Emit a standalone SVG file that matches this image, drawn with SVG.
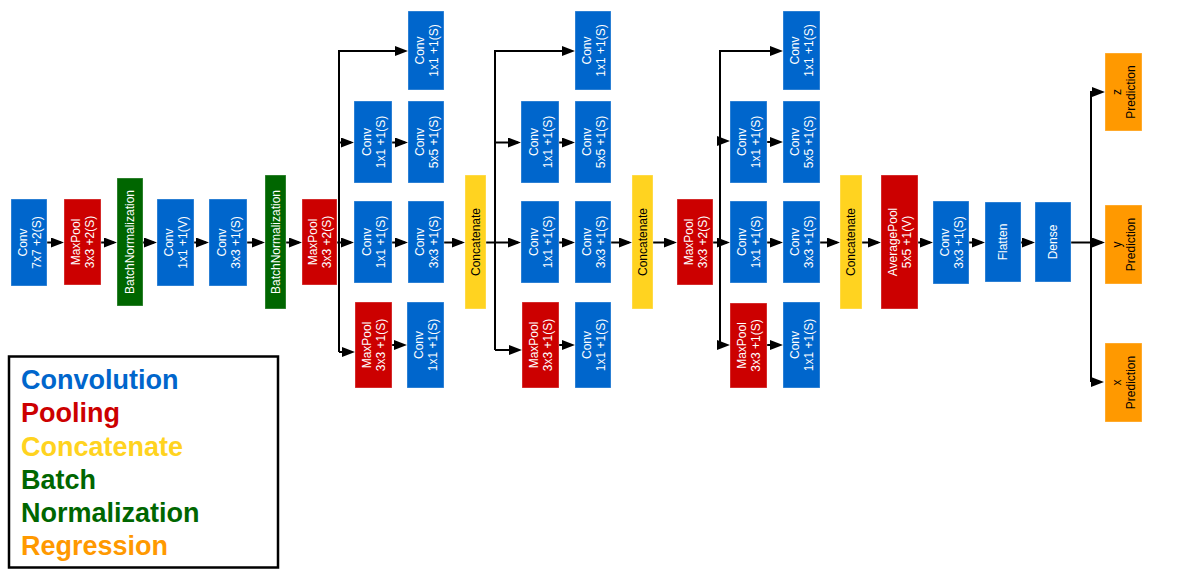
<svg xmlns="http://www.w3.org/2000/svg" width="1192" height="572" viewBox="0 0 1192 572">
<defs>
  <marker id="arr" markerUnits="userSpaceOnUse" markerWidth="13" markerHeight="10" refX="10" refY="5" orient="auto">
    <path d="M0,0 L13,5 L0,10 Z" fill="#000"/>
  </marker>
  <style>
    rect.n { stroke: #ffffff; stroke-opacity: 0.35; stroke-width: 1; }
    .conv { fill: #0066CC; }
    .pool { fill: #CC0000; }
    .cat { fill: #FFD320; }
    .bn { fill: #006600; }
    .reg { fill: #FF9900; }
    text.l { font-family: "Liberation Sans", Arial, sans-serif; font-size: 12px; fill: #ffffff; text-anchor: middle; }
    text.d { fill: #000000; }
    #connectors path { fill: none; stroke: #000; stroke-width: 2; }
    #connectors path.a { marker-end: url(#arr); }
    .leg { font-family: "Liberation Sans", Arial, sans-serif; font-size: 27px; font-weight: bold; }
  </style>
</defs>
<rect width="1192" height="572" fill="#ffffff"/>

<!-- connectors -->
<g id="connectors">
  <path class="a" d="M47,242.5 H61"/>
  <path class="a" d="M101,242.5 H114"/>
  <path class="a" d="M143,242.5 H154"/>
  <path class="a" d="M194,242.5 H206"/>
  <path class="a" d="M247,242.5 H262"/>
  <path class="a" d="M286,242.5 H299"/>
  <!-- block A -->
  <path class="a" d="M337,242.5 H351"/>
  <path class="a" d="M339,352 V51 H405"/>
  <path class="a" d="M339,142.5 H351"/>
  <path class="a" d="M339,352 H352"/>
  <path class="a" d="M392,142.5 H405"/>
  <path class="a" d="M392,242.5 H405"/>
  <path class="a" d="M392,345 H404"/>
  <path class="a" d="M444,242.5 H462"/>
  <!-- block B -->
  <path class="a" d="M486,242.5 H518"/>
  <path class="a" d="M495,350 V51 H572"/>
  <path class="a" d="M495,142.5 H518"/>
  <path class="a" d="M495,350 H519"/>
  <path class="a" d="M559,142.5 H572"/>
  <path class="a" d="M559,242.5 H572"/>
  <path class="a" d="M559,345 H572"/>
  <path class="a" d="M611,242.5 H629"/>
  <path class="a" d="M653,242.5 H674"/>
  <!-- block C -->
  <path class="a" d="M713,242.5 H727"/>
  <path class="a" d="M720,345 V51 H780"/>
  <path class="a" d="M720,141 H727"/>
  <path class="a" d="M720,345 H727"/>
  <path class="a" d="M767,142 H780"/>
  <path class="a" d="M767,242.5 H780"/>
  <path class="a" d="M767,345 H780"/>
  <path class="a" d="M820,242.5 H837"/>
  <!-- head -->
  <path class="a" d="M862,242.5 H878"/>
  <path class="a" d="M918,242.5 H930"/>
  <path class="a" d="M969,242.5 H982"/>
  <path class="a" d="M1021,242.5 H1032"/>
  <path class="a" d="M1071,242.5 H1102"/>
  <path class="a" d="M1091,382 V92 H1102"/>
  <path class="a" d="M1091,382 H1101"/>
</g>

<!-- stem -->
<g id="conv1"><rect class="n conv" x="11" y="199" width="36" height="87"/>
  <text class="l" transform="translate(29,242.5) rotate(-90)"><tspan x="0" y="-2.5">Conv</tspan><tspan x="0" y="11.5">7x7 +2(S)</tspan></text></g>
<g id="pool1"><rect class="n pool" x="64" y="199" width="37" height="86"/>
  <text class="l" transform="translate(82.5,242) rotate(-90)"><tspan x="0" y="-2.5">MaxPool</tspan><tspan x="0" y="11.5">3x3 +2(S)</tspan></text></g>
<g id="bn1"><rect class="n bn" x="117" y="178" width="26" height="128"/>
  <text class="l" transform="translate(130,242) rotate(-90)" y="4.3">BatchNormalization</text></g>
<g id="conv2"><rect class="n conv" x="157" y="199" width="37" height="87"/>
  <text class="l" transform="translate(175.5,242.5) rotate(-90)"><tspan x="0" y="-2.5">Conv</tspan><tspan x="0" y="11.5">1x1 +1(V)</tspan></text></g>
<g id="conv3"><rect class="n conv" x="209" y="199" width="38" height="87"/>
  <text class="l" transform="translate(228,242.5) rotate(-90)"><tspan x="0" y="-2.5">Conv</tspan><tspan x="0" y="11.5">3x3 +1(S)</tspan></text></g>
<g id="bn2"><rect class="n bn" x="265" y="175" width="21" height="134"/>
  <text class="l" transform="translate(275.5,242) rotate(-90)" y="4.3">BatchNormalization</text></g>
<g id="pool2"><rect class="n pool" x="302" y="199" width="35" height="86"/>
  <text class="l" transform="translate(319.5,242) rotate(-90)"><tspan x="0" y="-2.5">MaxPool</tspan><tspan x="0" y="11.5">3x3 +2(S)</tspan></text></g>

<!-- block A -->
<g id="a1"><rect class="n conv" x="408" y="11" width="36" height="79"/>
  <text class="l" transform="translate(426,50.5) rotate(-90)"><tspan x="0" y="-2.5">Conv</tspan><tspan x="0" y="11.5">1x1 +1(S)</tspan></text></g>
<g id="a2a"><rect class="n conv" x="354" y="101" width="38" height="82"/>
  <text class="l" transform="translate(373,142) rotate(-90)"><tspan x="0" y="-2.5">Conv</tspan><tspan x="0" y="11.5">1x1 +1(S)</tspan></text></g>
<g id="a2b"><rect class="n conv" x="408" y="101" width="36" height="82"/>
  <text class="l" transform="translate(426,142) rotate(-90)"><tspan x="0" y="-2.5">Conv</tspan><tspan x="0" y="11.5">5x5 +1(S)</tspan></text></g>
<g id="a3a"><rect class="n conv" x="354" y="201" width="38" height="82"/>
  <text class="l" transform="translate(373,242) rotate(-90)"><tspan x="0" y="-2.5">Conv</tspan><tspan x="0" y="11.5">1x1 +1(S)</tspan></text></g>
<g id="a3b"><rect class="n conv" x="408" y="201" width="36" height="82"/>
  <text class="l" transform="translate(426,242) rotate(-90)"><tspan x="0" y="-2.5">Conv</tspan><tspan x="0" y="11.5">3x3 +1(S)</tspan></text></g>
<g id="a4a"><rect class="n pool" x="355" y="302" width="37" height="86"/>
  <text class="l" transform="translate(373.5,345) rotate(-90)"><tspan x="0" y="-2.5">MaxPool</tspan><tspan x="0" y="11.5">3x3 +1(S)</tspan></text></g>
<g id="a4b"><rect class="n conv" x="407" y="302" width="37" height="86"/>
  <text class="l" transform="translate(425.5,345) rotate(-90)"><tspan x="0" y="-2.5">Conv</tspan><tspan x="0" y="11.5">1x1 +1(S)</tspan></text></g>
<g id="cat1"><rect class="n cat" x="465" y="175" width="21" height="134"/>
  <text class="l d" transform="translate(475.5,242) rotate(-90)" y="4.3">Concatenate</text></g>

<!-- block B -->
<g id="b1"><rect class="n conv" x="575" y="11" width="36" height="79"/>
  <text class="l" transform="translate(593,50.5) rotate(-90)"><tspan x="0" y="-2.5">Conv</tspan><tspan x="0" y="11.5">1x1 +1(S)</tspan></text></g>
<g id="b2a"><rect class="n conv" x="521" y="101" width="38" height="82"/>
  <text class="l" transform="translate(540,142) rotate(-90)"><tspan x="0" y="-2.5">Conv</tspan><tspan x="0" y="11.5">1x1 +1(S)</tspan></text></g>
<g id="b2b"><rect class="n conv" x="575" y="101" width="36" height="82"/>
  <text class="l" transform="translate(593,142) rotate(-90)"><tspan x="0" y="-2.5">Conv</tspan><tspan x="0" y="11.5">5x5 +1(S)</tspan></text></g>
<g id="b3a"><rect class="n conv" x="521" y="201" width="38" height="82"/>
  <text class="l" transform="translate(540,242) rotate(-90)"><tspan x="0" y="-2.5">Conv</tspan><tspan x="0" y="11.5">1x1 +1(S)</tspan></text></g>
<g id="b3b"><rect class="n conv" x="575" y="201" width="36" height="82"/>
  <text class="l" transform="translate(593,242) rotate(-90)"><tspan x="0" y="-2.5">Conv</tspan><tspan x="0" y="11.5">3x3 +1(S)</tspan></text></g>
<g id="b4a"><rect class="n pool" x="522" y="302" width="37" height="86"/>
  <text class="l" transform="translate(540.5,345) rotate(-90)"><tspan x="0" y="-2.5">MaxPool</tspan><tspan x="0" y="11.5">3x3 +1(S)</tspan></text></g>
<g id="b4b"><rect class="n conv" x="575" y="302" width="36" height="86"/>
  <text class="l" transform="translate(593,345) rotate(-90)"><tspan x="0" y="-2.5">Conv</tspan><tspan x="0" y="11.5">1x1 +1(S)</tspan></text></g>
<g id="cat2"><rect class="n cat" x="632" y="175" width="21" height="134"/>
  <text class="l d" transform="translate(642.5,242) rotate(-90)" y="4.3">Concatenate</text></g>
<g id="pool3"><rect class="n pool" x="677" y="199" width="36" height="86"/>
  <text class="l" transform="translate(695,242) rotate(-90)"><tspan x="0" y="-2.5">MaxPool</tspan><tspan x="0" y="11.5">3x3 +2(S)</tspan></text></g>

<!-- block C -->
<g id="c1"><rect class="n conv" x="783" y="11" width="37" height="79"/>
  <text class="l" transform="translate(801.5,50.5) rotate(-90)"><tspan x="0" y="-2.5">Conv</tspan><tspan x="0" y="11.5">1x1 +1(S)</tspan></text></g>
<g id="c2a"><rect class="n conv" x="730" y="101" width="37" height="82"/>
  <text class="l" transform="translate(748.5,142) rotate(-90)"><tspan x="0" y="-2.5">Conv</tspan><tspan x="0" y="11.5">1x1 +1(S)</tspan></text></g>
<g id="c2b"><rect class="n conv" x="783" y="101" width="37" height="82"/>
  <text class="l" transform="translate(801.5,142) rotate(-90)"><tspan x="0" y="-2.5">Conv</tspan><tspan x="0" y="11.5">5x5 +1(S)</tspan></text></g>
<g id="c3a"><rect class="n conv" x="730" y="201" width="37" height="82"/>
  <text class="l" transform="translate(748.5,242) rotate(-90)"><tspan x="0" y="-2.5">Conv</tspan><tspan x="0" y="11.5">1x1 +1(S)</tspan></text></g>
<g id="c3b"><rect class="n conv" x="783" y="201" width="37" height="82"/>
  <text class="l" transform="translate(801.5,242) rotate(-90)"><tspan x="0" y="-2.5">Conv</tspan><tspan x="0" y="11.5">3x3 +1(S)</tspan></text></g>
<g id="c4a"><rect class="n pool" x="730" y="303" width="37" height="85"/>
  <text class="l" transform="translate(748.5,345.5) rotate(-90)"><tspan x="0" y="-2.5">MaxPool</tspan><tspan x="0" y="11.5">3x3 +1(S)</tspan></text></g>
<g id="c4b"><rect class="n conv" x="783" y="302" width="37" height="86"/>
  <text class="l" transform="translate(801.5,345) rotate(-90)"><tspan x="0" y="-2.5">Conv</tspan><tspan x="0" y="11.5">1x1 +1(S)</tspan></text></g>
<g id="cat3"><rect class="n cat" x="840" y="175" width="22" height="134"/>
  <text class="l d" transform="translate(851,242) rotate(-90)" y="4.3">Concatenate</text></g>

<!-- head -->
<g id="avgpool"><rect class="n pool" x="881" y="175" width="37" height="134"/>
  <text class="l" transform="translate(899.5,242) rotate(-90)"><tspan x="0" y="-2.5">AveragePool</tspan><tspan x="0" y="11.5">5x5 +1(V)</tspan></text></g>
<g id="conv4"><rect class="n conv" x="933" y="201" width="36" height="83"/>
  <text class="l" transform="translate(951,242.5) rotate(-90)"><tspan x="0" y="-2.5">Conv</tspan><tspan x="0" y="11.5">3x3 +1(S)</tspan></text></g>
<g id="flatten"><rect class="n conv" x="985" y="202" width="36" height="80"/>
  <text class="l" transform="translate(1003,242) rotate(-90)" y="4.3">Flatten</text></g>
<g id="dense"><rect class="n conv" x="1035" y="202" width="36" height="80"/>
  <text class="l" transform="translate(1053,242) rotate(-90)" y="4.3">Dense</text></g>

<!-- outputs -->
<g id="pred-z"><rect class="n reg" x="1105" y="53" width="37" height="78"/>
  <text class="l d" transform="translate(1123.5,92) rotate(-90)"><tspan x="0" y="-2.5">z</tspan><tspan x="0" y="11.5">Prediction</tspan></text></g>
<g id="pred-y"><rect class="n reg" x="1105" y="205" width="37" height="79"/>
  <text class="l d" transform="translate(1123.5,244.5) rotate(-90)"><tspan x="0" y="-2.5">y</tspan><tspan x="0" y="11.5">Prediction</tspan></text></g>
<g id="pred-x"><rect class="n reg" x="1105" y="343" width="37" height="79"/>
  <text class="l d" transform="translate(1123.5,382.5) rotate(-90)"><tspan x="0" y="-2.5">x</tspan><tspan x="0" y="11.5">Prediction</tspan></text></g>

<!-- legend -->
<g id="legend">
  <rect x="9" y="356.5" width="269" height="211" fill="#ffffff" stroke="#000" stroke-width="2.5"/>
  <text class="leg" x="21" y="389" fill="#0066CC">Convolution</text>
  <text class="leg" x="21" y="422" fill="#CC0000">Pooling</text>
  <text class="leg" x="21" y="455.5" fill="#FFD320">Concatenate</text>
  <text class="leg" x="21" y="489" fill="#006600">Batch</text>
  <text class="leg" x="21" y="522" fill="#006600">Normalization</text>
  <text class="leg" x="21" y="555" fill="#FF9900">Regression</text>
</g>
</svg>
